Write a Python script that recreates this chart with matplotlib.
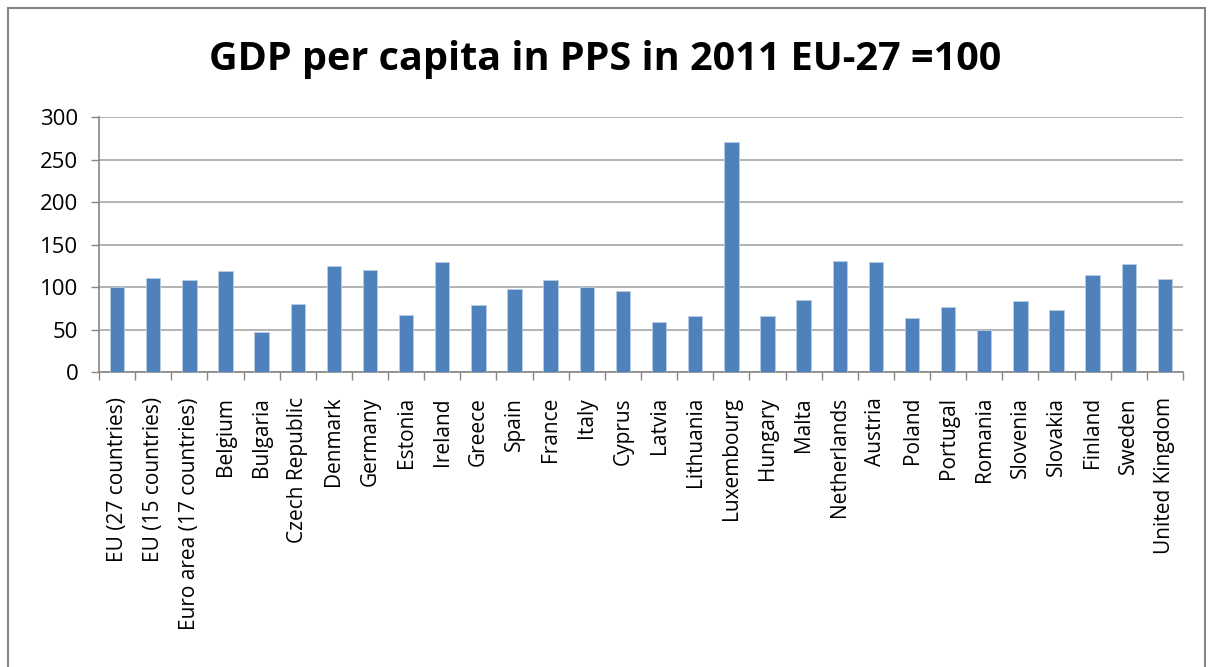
import matplotlib
matplotlib.use("Agg")
import matplotlib.pyplot as plt
import numpy as np
from matplotlib.patches import Rectangle

countries = ["EU (27 countries)", "EU (15 countries)", "Euro area (17 countries)",
             "Belgium", "Bulgaria", "Czech Republic", "Denmark", "Germany",
             "Estonia", "Ireland", "Greece", "Spain", "France", "Italy", "Cyprus",
             "Latvia", "Lithuania", "Luxembourg", "Hungary", "Malta", "Netherlands",
             "Austria", "Poland", "Portugal", "Romania", "Slovenia", "Slovakia",
             "Finland", "Sweden", "United Kingdom"]
gdp_pps = [100, 111, 108, 119, 47, 80, 125, 120, 67, 129, 79, 98, 108, 100, 95,
           59, 66, 271, 66, 85, 131, 129, 64, 77, 49, 84, 73, 114, 127, 109]
yticks = [0, 50, 100, 150, 200, 250, 300]

fig = plt.figure(figsize=(12.11, 6.67), dpi=100)
ax = fig.add_axes([99 / 1211, 1 - 372 / 667, (1183 - 99) / 1211, (372 - 117) / 667])

# outer chart frame
fig.patches.append(Rectangle((8 / 1211, -0.01), 1197 / 1211, 1 - 8 / 667 + 0.01,
                             transform=fig.transFigure, fill=False,
                             edgecolor="#868686", linewidth=1.5))

x = np.arange(len(countries))
ax.bar(x, gdp_pps, width=0.4, color="#4f81bd", edgecolor="#b9cde5",
       linewidth=0.6, zorder=3)

ax.set_xlim(-0.5, len(countries) - 0.5)
ax.set_ylim(0, 300)
ax.set_yticks(yticks)
ax.set_yticklabels([str(v) for v in yticks], fontsize=16, family="Open Sans")
ax.yaxis.grid(True, color="#a6a6a6", linewidth=1.2, zorder=0)

ax.set_xticks(x)
ax.set_xticklabels(countries, rotation=90, fontsize=15, family="Open Sans")
ax.set_xticks(np.arange(len(countries) + 1) - 0.5, minor=True)
ax.tick_params(axis="x", which="major", length=0, pad=18)
ax.tick_params(axis="x", which="minor", length=6, color="#868686", width=1)
ax.tick_params(axis="y", length=6, color="#868686", width=1, pad=9)

for side in ["top", "right"]:
    ax.spines[side].set_visible(False)
for side in ["left", "bottom"]:
    ax.spines[side].set_color("#868686")
    ax.spines[side].set_linewidth(1.2)

fig.text(0.5, 1 - 70 / 667, "GDP per capita in PPS in 2011 EU-27 =100",
         ha="center", va="baseline", fontsize=28.5, fontweight="bold",
         family="Open Sans")

fig.savefig("out.png", dpi=100)
